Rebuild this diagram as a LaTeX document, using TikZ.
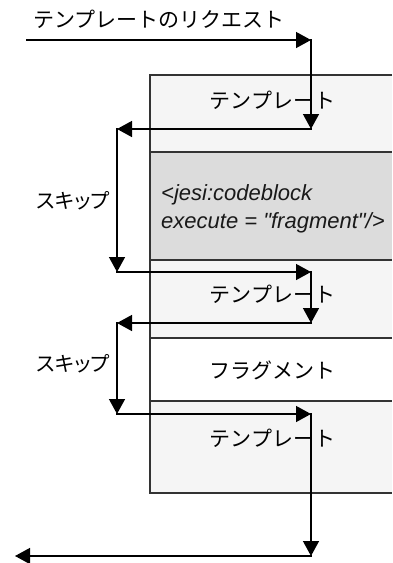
\documentclass[tikz,border=0pt]{standalone}
\usepackage{fontspec}
\setmainfont{Liberation Sans}
\newfontfamily\jp{Noto Sans CJK JP}
\newfontfamily\jpp{Noto Sans CJK JP}[RawFeature=+palt]
\usetikzlibrary{arrows.meta}
\definecolor{tmplfill}{HTML}{F5F5F5}
\definecolor{codefill}{HTML}{DCDCDC}
\definecolor{boxline}{HTML}{333333}
\begin{document}
\begin{tikzpicture}[x=1pt,y=-1pt,
  flow/.style={line width=1.4pt, line cap=rect, -{Triangle[length=15pt,width=16pt]}},
  frame/.style={draw=boxline, line width=1.3pt},
  jtext/.style={font=\jp\fontsize{21}{25}\selectfont, inner sep=0pt},
  skiptext/.style={font=\jpp\fontsize{20.5}{24}\selectfont, inner sep=0pt},
  codetext/.style={font=\itshape\fontsize{22}{26}\selectfont, inner sep=0pt, anchor=base west, text=black!90}]
\useasboundingbox (0,0) rectangle (392,563);
% sections
\fill[tmplfill] (150,75) rectangle (392,152);
\fill[codefill] (150,152) rectangle (392,260);
\fill[tmplfill] (150,260) rectangle (392,338);
\fill[white] (150,338) rectangle (392,401);
\fill[tmplfill] (150,401) rectangle (392,493);
\draw[frame] (392,75) -- (150,75) -- (150,493) -- (392,493);
\draw[frame] (150,152) -- (392,152);
\draw[frame] (150,260) -- (392,260);
\draw[frame] (150,338) -- (392,338);
\draw[frame] (150,401) -- (392,401);
% texts
\node[jtext] (req) at (159,19) {テンプレートのリクエスト};
\node[jtext] (t1) at (272.5,100) {テンプレート};
\node[codetext] (code1) at (161,200) {<jesi:codeblock};
\node[codetext] (code2) at (161,228) {execute = \textquotedbl fragment\textquotedbl/>};
\node[jtext] (t2) at (272.5,294) {テンプレート};
\node[jtext] (frag) at (272.5,370) {フラグメント};
\node[jtext] (t3) at (272.5,438) {テンプレート};
\node[skiptext] (skip1) at (73,201) {スキップ};
\node[skiptext] (skip2) at (73,364) {スキップ};
% flow points
\coordinate (c0) at (27,40);
\coordinate (c1) at (311,40);
\coordinate (c2) at (311,129);
\coordinate (c3) at (117,129);
\coordinate (c4) at (117,272);
\coordinate (c5) at (311,272);
\coordinate (c6) at (311,323);
\coordinate (c7) at (117,323);
\coordinate (c8) at (117,414);
\coordinate (c9) at (311,414);
\coordinate (c10) at (311,556);
\coordinate (c11) at (15,556);
\draw[flow] (c0) -- (c1);
\draw[flow] (c1) -- (c2);
\draw[flow] (c2) -- (c3);
\draw[flow] (c3) -- (c4);
\draw[flow] (c4) -- (c5);
\draw[flow] (c5) -- (c6);
\draw[flow] (c6) -- (c7);
\draw[flow] (c7) -- (c8);
\draw[flow] (c8) -- (c9);
\draw[flow] (c9) -- (c10);
\draw[flow] (c10) -- (c11);
\end{tikzpicture}
\end{document}
